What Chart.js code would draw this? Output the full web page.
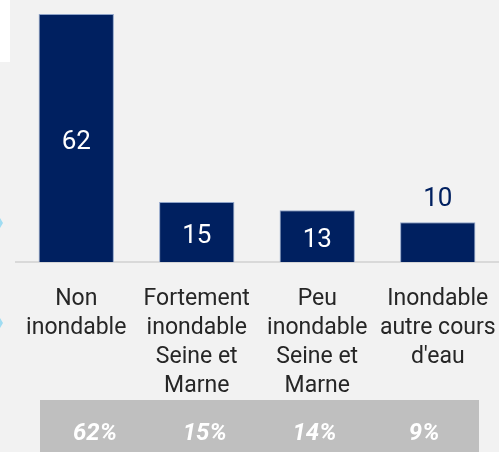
<!DOCTYPE html>
<html>
<head>
<meta charset="utf-8">
<script src="https://cdn.jsdelivr.net/npm/chart.js@4/dist/chart.umd.min.js"></script>
<style>
  html, body { margin: 0; padding: 0; background: #f2f2f2; }
  #wrap { position: relative; width: 499px; height: 452px; }
</style>
</head>
<body>
<div id="wrap"><canvas id="floodChart"></canvas></div>
<script>
var categories = [
  ['Non', 'inondable'],
  ['Fortement', 'inondable', 'Seine et', 'Marne'],
  ['Peu', 'inondable', 'Seine et', 'Marne'],
  ['Inondable', 'autre cours', "d'eau"]
];
var values = [62, 15, 13, 10];
var shares = ['62%', '15%', '14%', '9%'];

var navy = '#002060';
var font = 'Roboto, "Liberation Sans", sans-serif';

// white box + value labels + grey share band
var extras = {
  id: 'extras',
  beforeDraw: function(chart) {
    var c = chart.ctx;
    c.save();
    c.fillStyle = '#ffffff';
    c.fillRect(0, 0, 10, 62);
    c.fillStyle = '#9fdcf2';
    c.beginPath(); c.moveTo(0, 218); c.lineTo(3, 223); c.lineTo(0, 228); c.fill();
    c.beginPath(); c.moveTo(0, 318); c.lineTo(3, 323); c.lineTo(0, 328); c.fill();
    c.restore();
  },
  afterDatasetsDraw: function(chart) {
    var c = chart.ctx;
    var meta = chart.getDatasetMeta(0);
    c.save();
    c.font = '26px ' + font;
    c.textAlign = 'center';
    c.textBaseline = 'middle';
    meta.data.forEach(function(bar, i) {
      var v = values[i];
      if (v >= 12) {
        c.fillStyle = '#ffffff';
        c.fillText(String(v), bar.x, (bar.y + bar.base) / 2 + 4);
      } else {
        c.fillStyle = navy;
        c.fillText(String(v), bar.x, bar.y - 23);
      }
    });
    // share band
    var left = 40, right = 479, top = 400;
    c.fillStyle = '#bfbfbf';
    c.fillRect(left, top, right - left, chart.height - top);
    c.fillStyle = '#ffffff';
    c.font = 'italic bold 24px ' + font;
    var w = (right - left) / shares.length;
    shares.forEach(function(s, i) {
      c.fillText(s, left + w * (i + 0.5), 434);
    });
    c.restore();
  }
};

var ctx = document.getElementById('floodChart').getContext('2d');
var floodChart = new Chart(ctx, {
  type: 'bar',
  data: {
    labels: categories,
    datasets: [{
      data: values,
      backgroundColor: navy,
      borderColor: '#8ea3c8',
      borderWidth: 1,
      categoryPercentage: 1,
      barPercentage: 0.625
    }]
  },
  options: {
    responsive: true,
    maintainAspectRatio: false,
    animation: false,
    layout: { padding: { left: 16, right: 1, top: 14, bottom: 29 } },
    plugins: { legend: { display: false }, tooltip: { enabled: false } },
    scales: {
      x: {
        grid: { display: false, drawTicks: false },
        border: { display: true, color: '#d9d9d9', width: 2 },
        afterFit: function(scale) { scale.paddingLeft = 0; scale.paddingRight = 0; },
        ticks: {
          color: '#262626',
          padding: 22,
          font: { family: font, size: 23, lineHeight: 1.27 },
          maxRotation: 0,
          autoSkip: false
        }
      },
      y: {
        display: false,
        min: 0,
        max: 62
      }
    }
  },
  plugins: [extras]
});
</script>
</body>
</html>
